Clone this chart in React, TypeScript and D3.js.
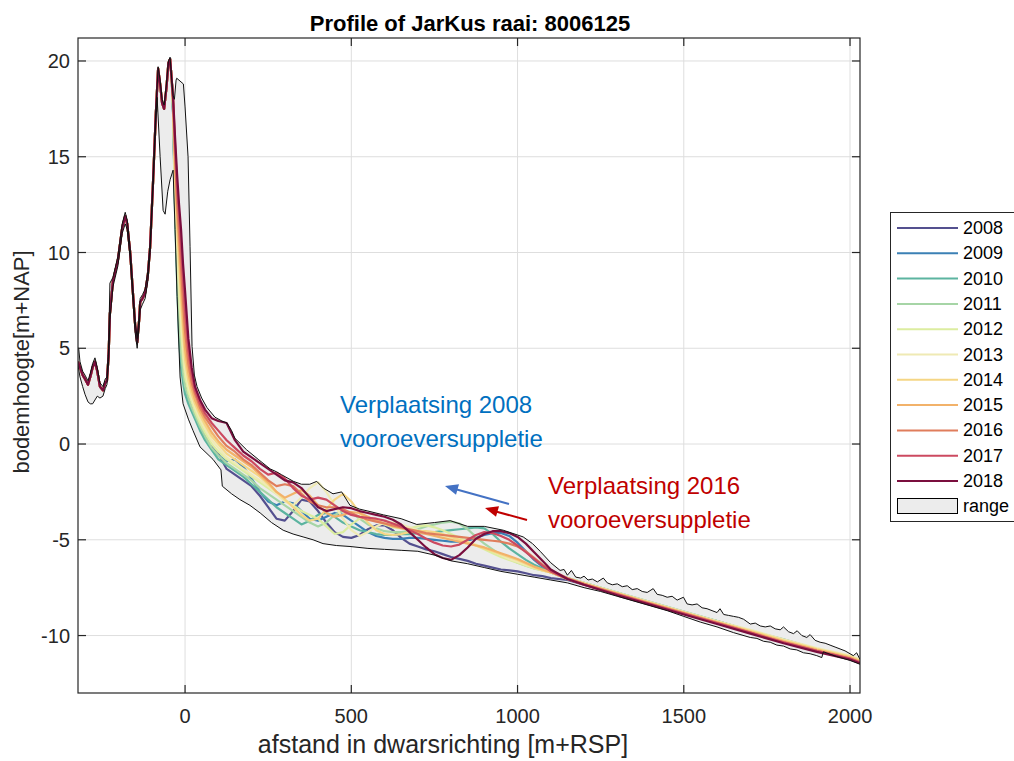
import React from 'react';
import * as d3 from 'd3';

// ---------------- data ----------------
const years = [2008, 2009, 2010, 2011, 2012, 2013, 2014, 2015, 2016, 2017, 2018];
const yearColors = ['#54508f', '#3b80b5', '#5cb4a0', '#a6d5a6', '#dceda0', '#efeab4', '#f5d685', '#f2b26a', '#e07d5c', '#cc4a60', '#7a0e3e'];

const xTicks = [0, 500, 1000, 1500, 2000];
const yTicks = [-10, -5, 0, 5, 10, 15, 20];

// dune part, common to all surveyed years
const duneX = [-322, -316, -308, -301, -292, -285, -278, -271, -264, -256, -247, -240, -235, -230, -226, -217, -202, -189, -180, -174, -165, -156, -150, -144, -138, -135, -128, -120, -112, -105, -96, -88, -81, -75, -69, -63, -56, -50, -45, -40];
const duneY = [4.3, 4.0, 3.6, 3.4, 3.1, 3.5, 4.0, 4.3, 3.8, 3.0, 2.8, 3.2, 3.3, 4.6, 6.8, 8.5, 9.6, 11.3, 11.9, 11.5, 10.0, 7.7, 6.2, 5.3, 6.5, 7.4, 7.6, 7.9, 8.8, 10.3, 13.8, 17.2, 19.6, 18.8, 17.8, 17.5, 18.6, 19.9, 20.1, 19.0];

// seaward part, one value per year per position
const seaX = [-36, -30, -24, -18, -12, -6, 0, 10, 20, 30, 45, 60, 80, 100,
  125, 150, 175, 200, 225, 250, 275, 300, 325, 350,
  375, 400, 425, 450, 475, 500, 525, 550, 575, 600,
  625, 650, 675, 700, 725, 750, 775, 800, 825, 850,
  875, 900, 925, 950, 975, 1000, 1025, 1050, 1075, 1100,
  1150, 1200, 1300, 1400, 1500, 1600, 1700, 1800, 1900, 2000, 2030];

const z2008 = [17.4, 12.8, 9.8, 7.0, 5.2, 4.0, 3.1, 2.4, 1.9, 1.5, 0.9, 0.4, -0.1, -0.5,
  -1.3, -1.6, -1.9, -2.2, -2.7, -3.3, -3.9, -4.0, -3.5, -2.9,
  -3.0, -3.5, -4.1, -4.6, -4.85, -4.9, -4.75, -4.45, -4.25, -4.25,
  -4.5, -4.9, -5.2, -5.35, -5.5, -5.6, -5.75, -5.9, -6.0, -6.1,
  -6.25, -6.35, -6.45, -6.55, -6.6, -6.65, -6.75, -6.85, -6.9, -7.0,
  -7.1, -7.35, -7.85, -8.35, -8.85, -9.3, -9.8, -10.3, -10.75, -11.15, -11.35];
const z2009 = [17.3, 12.5, 9.2, 6.4, 4.7, 3.6, 2.9, 2.3, 1.8, 1.4, 0.8, 0.3, -0.2, -0.6,
  -0.9, -0.8, -1.2, -1.8, -2.5, -3.0, -3.2, -3.0, -3.1, -3.5,
  -3.9, -4.0, -3.8, -3.6, -3.7, -4.0, -4.3, -4.6, -4.8, -4.9,
  -4.95, -4.95, -4.9, -4.9, -4.95, -5.0, -5.05, -5.1, -5.1, -5.05,
  -4.9, -4.75, -4.65, -4.65, -4.8, -5.15, -5.6, -6.05, -6.4, -6.7,
  -7.05, -7.3, -7.8, -8.3, -8.8, -9.25, -9.75, -10.25, -10.7, -11.1, -11.3];
const z2010 = [17.2, 12.0, 8.5, 5.5, 4.0, 3.2, 2.6, 2.1, 1.7, 1.3, 0.7, 0.2, -0.3, -0.8,
  -1.1, -1.4, -1.7, -2.1, -2.5, -2.9, -3.3, -3.6, -3.9, -4.2,
  -4.0, -3.7, -3.6, -3.8, -4.1, -4.3, -4.5, -4.6, -4.7, -4.75,
  -4.75, -4.7, -4.7, -4.65, -4.65, -4.6, -4.55, -4.5, -4.45, -4.4,
  -4.35, -4.4, -4.7, -5.1, -5.45, -5.75, -6.05, -6.3, -6.5, -6.7,
  -7.0, -7.25, -7.75, -8.25, -8.75, -9.25, -9.75, -10.2, -10.7, -11.1, -11.3];
const z2011 = [17.3, 12.4, 9.4, 6.6, 4.8, 3.7, 3.0, 2.4, 1.9, 1.5, 0.9, 0.4, -0.2, -0.6,
  -1.0, -1.3, -1.6, -1.9, -2.3, -2.6, -2.9, -3.2, -3.5, -3.8,
  -4.1, -4.3, -4.1, -3.7, -3.5, -3.6, -3.9, -4.2, -4.4, -4.55,
  -4.6, -4.6, -4.55, -4.45, -4.3, -4.2, -4.1, -4.05, -4.15, -4.45,
  -4.85, -5.2, -5.5, -5.8, -6.0, -6.2, -6.35, -6.5, -6.6, -6.7,
  -7.0, -7.25, -7.75, -8.3, -8.8, -9.25, -9.75, -10.25, -10.7, -11.1, -11.3];
const z2012 = [17.5, 13.0, 10.4, 7.8, 5.9, 4.5, 3.5, 2.7, 2.2, 1.7, 1.1, 0.6, 0.0, -0.4,
  -0.8, -1.1, -1.4, -1.7, -2.0, -2.3, -2.6, -2.9, -3.2, -3.5,
  -3.7, -3.9, -4.3, -4.7, -4.6, -4.2, -3.9, -3.8, -4.0, -4.2,
  -4.35, -4.4, -4.4, -4.3, -4.25, -4.35, -4.5, -4.7, -4.9, -5.1,
  -5.3, -5.5, -5.7, -5.9, -6.05, -6.2, -6.35, -6.5, -6.6, -6.7,
  -7.0, -7.25, -7.8, -8.3, -8.8, -9.3, -9.75, -10.25, -10.7, -11.1, -11.3];
const z2013 = [17.6, 13.5, 11.0, 8.6, 6.6, 5.1, 3.9, 3.0, 2.4, 1.9, 1.3, 0.8, 0.2, -0.2,
  -0.7, -1.0, -1.3, -1.6, -1.9, -2.2, -2.6, -3.0, -3.2, -2.8,
  -2.3, -2.0, -2.5, -3.2, -3.9, -4.5, -4.8, -4.6, -4.3, -4.1,
  -4.1, -4.2, -4.35, -4.5, -4.6, -4.7, -4.8, -4.9, -5.0, -5.1,
  -5.25, -5.4, -5.6, -5.8, -6.0, -6.15, -6.3, -6.45, -6.6, -6.7,
  -7.0, -7.25, -7.75, -8.25, -8.75, -9.25, -9.7, -10.2, -10.65, -11.05, -11.25];
const z2014 = [17.7, 14.0, 11.5, 9.4, 7.4, 5.8, 4.4, 3.3, 2.6, 2.1, 1.5, 1.0, 0.4, 0.0,
  -0.5, -0.8, -1.1, -1.4, -1.7, -2.1, -2.5, -2.9, -3.3, -3.7,
  -4.0, -3.9, -3.4, -2.9, -2.6, -3.0, -3.6, -4.1, -4.5, -4.7,
  -4.75, -4.7, -4.6, -4.55, -4.55, -4.6, -4.7, -4.85, -5.0, -5.15,
  -5.3, -5.45, -5.6, -5.75, -5.9, -6.05, -6.25, -6.45, -6.6, -6.7,
  -7.05, -7.3, -7.8, -8.3, -8.8, -9.3, -9.75, -10.25, -10.7, -11.1, -11.3];
const z2015 = [17.8, 14.5, 12.0, 10.2, 8.2, 6.5, 5.0, 3.7, 2.9, 2.3, 1.7, 1.2, 0.6, 0.15,
  -0.3, -0.6, -0.9, -1.2, -1.6, -2.0, -2.5, -2.8, -2.6, -2.4,
  -2.7, -3.2, -3.6, -3.8, -3.7, -3.55, -3.6, -3.8, -4.0, -4.15,
  -4.3, -4.4, -4.5, -4.6, -4.7, -4.8, -4.9, -5.0, -5.1, -5.2,
  -5.3, -5.4, -5.55, -5.7, -5.85, -6.0, -6.2, -6.4, -6.55, -6.7,
  -7.05, -7.3, -7.8, -8.3, -8.8, -9.3, -9.8, -10.3, -10.75, -11.15, -11.35];
const z2016 = [17.9, 15.0, 12.6, 11.0, 9.2, 7.4, 5.9, 4.2, 3.2, 2.6, 1.9, 1.4, 0.9, 0.4,
  -0.1, -0.4, -0.8, -1.1, -1.5, -1.9, -2.2, -2.1, -2.2, -2.6,
  -3.0, -3.2, -3.3, -3.3, -3.4, -3.6, -3.8, -3.95, -4.05, -4.15,
  -4.25, -4.35, -4.45, -4.55, -4.65, -4.7, -4.75, -4.8, -4.85, -4.9,
  -4.95, -5.0, -5.05, -5.1, -5.2, -5.35, -5.6, -5.95, -6.3, -6.6,
  -7.0, -7.3, -7.85, -8.35, -8.85, -9.35, -9.85, -10.35, -10.8, -11.2, -11.4];
const z2017 = [18.0, 15.6, 13.4, 12.0, 10.3, 8.6, 7.0, 4.9, 3.6, 2.8, 2.1, 1.6, 1.1, 0.7,
  0.2, -0.2, -0.6, -0.9, -1.3, -1.6, -1.5, -1.8, -2.3, -2.7,
  -2.9, -2.8, -2.9, -3.2, -3.5, -3.7, -3.8, -3.85, -3.9, -4.0,
  -4.15, -4.3, -4.5, -4.7, -4.95, -5.15, -5.3, -5.35, -5.25, -5.0,
  -4.75, -4.6, -4.65, -4.8, -5.0, -5.3, -5.65, -6.0, -6.35, -6.65,
  -7.05, -7.35, -7.85, -8.35, -8.85, -9.35, -9.85, -10.35, -10.8, -11.2, -11.4];
const z2018 = [18.1, 16.0, 14.1, 12.5, 11.2, 9.4, 8.0, 5.5, 4.0, 3.0, 2.3, 1.8, 1.35, 1.2,
  1.1, 0.2, -0.4, -0.7, -1.0, -1.3, -1.6, -1.9, -2.0, -2.3,
  -2.8, -3.3, -3.5, -3.4, -3.3, -3.35, -3.5, -3.6, -3.7, -3.8,
  -3.95, -4.2, -4.6, -5.0, -5.4, -5.75, -5.95, -6.05, -5.8, -5.4,
  -4.95, -4.7, -4.55, -4.55, -4.65, -4.85, -5.2, -5.65, -6.1, -6.55,
  -7.05, -7.35, -7.9, -8.4, -8.9, -9.4, -9.9, -10.4, -10.85, -11.25, -11.45];
const yearSea = [z2008, z2009, z2010, z2011, z2012, z2013, z2014, z2015, z2016, z2017, z2018];

// envelope of all JarKus surveys (range)
const rangeMaxX = [-322, -320, -316, -308, -301, -292, -285, -278, -271, -264, -256, -247, -240, -235, -230, -226, -217, -202, -189, -180, -174, -165, -156, -150, -144, -138, -135, -128, -120, -112, -105, -96, -88, -81, -75, -69, -63, -56, -50, -45, -40, -36, -32, -27, -25, -5, 0, 9, 15, 21, 28, 36, 50, 66, 90, 111, 126, 140, 150, 185, 220, 256, 275, 290, 326, 350, 375, 396, 416, 445, 471, 496, 525, 550, 597, 650, 697, 750, 797, 850, 900, 957, 1017, 1045, 1068, 1100, 1128,
  1140, 1150, 1162, 1175, 1190, 1200, 1212, 1225, 1240, 1258, 1270, 1285, 1300, 1315, 1330, 1345, 1360, 1375, 1390, 1408, 1420, 1435, 1450, 1465, 1480, 1499, 1510, 1525, 1540, 1555, 1570, 1585, 1600, 1609, 1620, 1635, 1650, 1665, 1680, 1700, 1715, 1730, 1745, 1760, 1775, 1790, 1800, 1815, 1830, 1841, 1855, 1870, 1880, 1895, 1910, 1925, 1940, 1955, 1970, 1985, 2000, 2010, 2020, 2030];
const rangeMaxY = [5.0, 5.0, 4.3, 3.8, 3.6, 3.3, 3.7, 4.2, 4.5, 4.0, 3.2, 3.0, 3.4, 3.5, 5.0, 8.4, 8.7, 9.8, 11.5, 12.1, 11.7, 10.2, 7.9, 6.4, 5.5, 6.7, 7.6, 7.8, 8.1, 9.0, 10.5, 14.0, 17.4, 19.7, 19.0, 18.0, 17.7, 18.8, 20.0, 20.2, 19.0, 18.2, 18.0, 19.0, 19.1, 18.8, 17.6, 15.0, 10.3, 5.1, 3.6, 3.0, 2.4, 1.9, 1.4, 1.2, 1.1, 0.7, 0.3, -0.3, -0.8, -1.3, -1.45, -1.6, -1.95, -2.1, -2.1, -1.95, -2.3, -2.6, -2.5, -3.2, -3.4, -3.5, -3.7, -3.9, -4.2, -4.1, -4.0, -4.3, -4.3, -4.5, -4.85, -5.2, -5.6, -6.2, -6.6,
  -6.55, -6.85, -6.6, -6.95, -7.0, -6.9, -7.1, -7.05, -7.2, -7.0, -7.25, -7.35, -7.3, -7.45, -7.4, -7.6, -7.55, -7.7, -7.75, -7.55, -7.85, -7.9, -8.0, -7.95, -8.15, -8.0, -8.35, -8.4, -8.35, -8.55, -8.6, -8.7, -8.8, -8.6, -8.9, -8.95, -9.0, -9.05, -9.15, -9.4, -9.35, -9.5, -9.55, -9.5, -9.65, -9.7, -9.55, -9.8, -9.9, -9.75, -10.0, -10.1, -9.95, -10.25, -10.35, -10.4, -10.5, -10.6, -10.7, -10.8, -10.95, -11.05, -10.9, -11.25];

const rangeMinX = [-322, -316, -308, -301, -292, -285, -278, -271, -264, -256, -247, -240, -235, -230, -226, -217, -202, -189, -180, -174, -165, -156, -150, -144, -138, -135, -128, -120, -112, -105, -96, -88, -84, -75, -66, -60, -52, -45, -36, -30, -24, -15, -6, 10, 24, 45, 84, 108, 112, 140, 165, 195, 226, 260, 295, 325, 355, 385, 415, 455, 496, 550, 600, 650, 700, 750, 800, 850, 900, 950, 1000, 1050, 1100,
  1150, 1200, 1250, 1300, 1350, 1400, 1450, 1500, 1550, 1600, 1650, 1700, 1720, 1740, 1760, 1780, 1800, 1820, 1840, 1860, 1880, 1900, 1915, 1920, 1960, 2000, 2030];
const rangeMinY = [4.1, 3.5, 3.0, 2.6, 2.2, 2.1, 2.1, 2.3, 2.5, 2.4, 2.5, 2.9, 3.1, 4.3, 6.5, 8.2, 9.3, 11.0, 11.5, 11.2, 9.7, 7.3, 5.8, 5.0, 6.2, 7.0, 7.3, 7.6, 8.5, 10.0, 13.5, 16.8, 18.1, 15.0, 12.2, 12.0, 13.2, 13.8, 14.3, 11.2, 7.7, 3.5, 2.1, 1.3, 0.7, -0.15, -0.8, -1.35, -2.2, -2.6, -2.9, -3.2, -3.6, -4.1, -4.5, -4.7, -4.85, -5.0, -5.2, -5.3, -5.35, -5.45, -5.5, -5.55, -5.6, -5.8, -6.1, -6.25, -6.45, -6.65, -6.8, -6.95, -7.1,
  -7.25, -7.5, -7.7, -7.95, -8.2, -8.45, -8.7, -9.0, -9.3, -9.55, -9.85, -10.1, -10.15, -10.3, -10.35, -10.5, -10.55, -10.7, -10.75, -10.9, -10.95, -11.05, -11.15, -10.85, -11.1, -11.3, -11.5];

const titleText = 'Profile of JarKus raai: 8006125';
const xLabelText = 'afstand in dwarsrichting [m+RSP]';
const yLabelText = 'bodemhoogte[m+NAP]';
const note2008 = ['Verplaatsing 2008', 'vooroeversuppletie'];
const note2016 = ['Verplaatsing 2016', 'vooroeversuppletie'];

// ---------------- chart ----------------
const W = 1014;
const H = 761;
const PL = 78, PR = 860, PT = 38, PB = 693;
const FONT = '"Liberation Sans", Arial, Helvetica, sans-serif';
const AX = '#262626';

export default function App() {
  const x = d3.scaleLinear().domain([-322, 2030]).range([PL, PR]);
  const y = d3.scaleLinear().domain([-13, 21.2]).range([PB, PT]);
  const line = d3.line<[number, number]>().x(d => x(d[0])).y(d => y(d[1]));

  const upper: [number, number][] = rangeMaxX.map((v, i) => [v, rangeMaxY[i]]);
  const lower: [number, number][] = rangeMinX.map((v, i) => [v, rangeMinY[i]]);
  const poly = [...upper, ...lower.slice().reverse()];
  const rangePath = (line(poly) || '') + 'Z';

  const yearPaths = years.map((yr, k) => {
    const pts: [number, number][] = [
      ...duneX.map((v, i) => [v, duneY[i]] as [number, number]),
      ...seaX.map((v, i) => [v, yearSea[k][i]] as [number, number]),
    ];
    return { yr, color: yearColors[k], d: line(pts) || '' };
  });

  const legX = 890.5, legY = 212.5, rowH = 25.3;

  const arrowHead = (x1: number, y1: number, x2: number, y2: number, len: number, wid: number) => {
    const ang = Math.atan2(y2 - y1, x2 - x1);
    const bx = x2 - len * Math.cos(ang);
    const by = y2 - len * Math.sin(ang);
    const px = -Math.sin(ang) * wid / 2;
    const py = Math.cos(ang) * wid / 2;
    return `M${x2},${y2}L${bx + px},${by + py}L${bx - px},${by - py}Z`;
  };

  return (
    <svg width={W} height={H} style={{ position: 'absolute', left: 0, top: 0, background: '#fff' }} fontFamily={FONT}>
      <defs>
        <clipPath id="plotclip">
          <rect x={PL} y={PT} width={PR - PL} height={PB - PT} />
        </clipPath>
      </defs>
      <rect x={0} y={0} width={W} height={H} fill="#fff" />
      {/* grid */}
      {xTicks.map(t => (
        <line key={'gx' + t} x1={x(t)} x2={x(t)} y1={PT} y2={PB} stroke="#dedede" strokeWidth={1} />
      ))}
      {yTicks.map(t => (
        <line key={'gy' + t} x1={PL} x2={PR} y1={y(t)} y2={y(t)} stroke="#dedede" strokeWidth={1} />
      ))}
      <g clipPath="url(#plotclip)">
        <path d={rangePath} fill="#ececec" stroke="none" />
        {yearPaths.map(p => (
          <path key={p.yr} d={p.d} fill="none" stroke={p.color} strokeWidth={2.2} strokeLinejoin="round" />
        ))}
        <path d={line(upper) || ''} fill="none" stroke="#111" strokeWidth={1} />
        <path d={line(lower) || ''} fill="none" stroke="#111" strokeWidth={1} />
      </g>
      {/* axes box and ticks */}
      <rect x={PL} y={PT} width={PR - PL} height={PB - PT} fill="none" stroke={AX} strokeWidth={1.2} />
      {xTicks.map(t => (
        <g key={'tx' + t}>
          <line x1={x(t)} x2={x(t)} y1={PB} y2={PB - 8} stroke={AX} strokeWidth={1.2} />
          <line x1={x(t)} x2={x(t)} y1={PT} y2={PT + 8} stroke={AX} strokeWidth={1.2} />
          <text x={x(t)} y={723} fontSize={20} fill={AX} textAnchor="middle">{t}</text>
        </g>
      ))}
      {yTicks.map(t => (
        <g key={'ty' + t}>
          <line x1={PL} x2={PL + 8} y1={y(t)} y2={y(t)} stroke={AX} strokeWidth={1.2} />
          <line x1={PR} x2={PR - 8} y1={y(t)} y2={y(t)} stroke={AX} strokeWidth={1.2} />
          <text x={70} y={y(t) + 7} fontSize={20} fill={AX} textAnchor="end">{t}</text>
        </g>
      ))}
      {/* titles */}
      <text x={470} y={31} fontSize={22} fontWeight="bold" fill="#000" textAnchor="middle">{titleText}</text>
      <text x={443} y={753} fontSize={25} fill={AX} textAnchor="middle">{xLabelText}</text>
      <text transform={`translate(29,362) rotate(-90)`} fontSize={22} fill={AX} textAnchor="middle">{yLabelText}</text>

      {/* annotations */}
      <text x={340} y={413} fontSize={24} fill="#0070c0">{note2008[0]}</text>
      <text x={340} y={447} fontSize={24} fill="#0070c0">{note2008[1]}</text>
      <text x={548} y={494} fontSize={24} fill="#c00000">{note2016[0]}</text>
      <text x={548} y={528} fontSize={24} fill="#c00000">{note2016[1]}</text>
      <line x1={509} y1={504} x2={455} y2={489} stroke="#4472c4" strokeWidth={2} />
      <path d={arrowHead(509, 504, 445, 486, 13, 11)} fill="#4472c4" />
      <line x1={527} y1={520} x2={494} y2={511} stroke="#c00000" strokeWidth={2} />
      <path d={arrowHead(527, 520, 485, 508, 13, 11)} fill="#c00000" />

      {/* legend */}
      <rect x={legX} y={legY} width={140} height={309} fill="#fff" stroke={AX} strokeWidth={1} />
      {years.map((yr, k) => (
        <g key={'lg' + yr}>
          <line x1={897} x2={958} y1={228 + k * rowH} y2={228 + k * rowH} stroke={yearColors[k]} strokeWidth={2} />
          <text x={963} y={228 + k * rowH + 6} fontSize={18} fill="#000">{yr}</text>
        </g>
      ))}
      <rect x={897.5} y={498.5} width={60} height={15} fill="#ececec" stroke="#000" strokeWidth={1} />
      <text x={963} y={512} fontSize={18} fill="#000">range</text>
    </svg>
  );
}
